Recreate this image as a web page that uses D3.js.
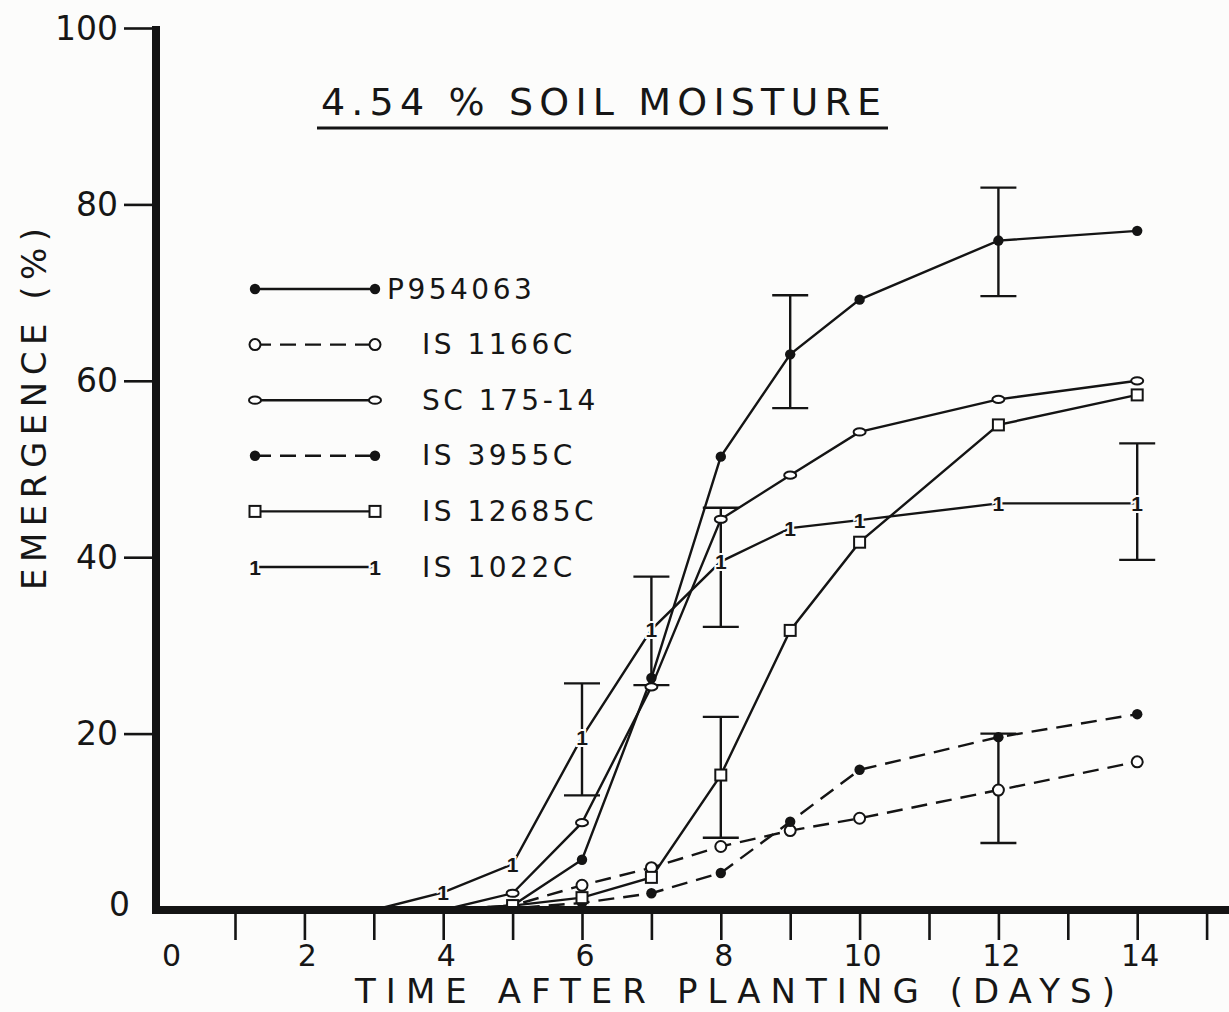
<!DOCTYPE html>
<html lang="en">
<head>
  <meta charset="UTF-8">
  <title>emergence</title>
  <script src="https://cdn.jsdelivr.net/npm/d3@7"></script>
  <style>
    * { padding: 0; margin: 0; }
    html, body { width: 1229px; height: 1012px; overflow: hidden; background: #fcfcfb; }
    text { font-family: "DejaVu Sans", sans-serif; fill: #161616; }
  </style>
</head>
<body>
  <script>
    // days sampled
    const days = [3, 4, 5, 6, 7, 8, 9, 10, 12, 14]
    // emergence (%) per entry
    const seriesNames = ['P954063', 'IS 1166C', 'SC 175-14', 'IS 3955C', 'IS 12685C', 'IS 1022C']
    const p954063 = [0, 0, 0.5, 5.7, 26.3, 51.4, 63, 69.2, 75.9, 77]
    const is1166c = [0, 0, 0.5, 2.8, 4.8, 7.2, 9.0, 10.4, 13.6, 16.8]
    const sc17514 = [0, 0, 1.9, 9.9, 25.3, 44.3, 49.3, 54.2, 57.9, 60]
    const is3955c = [0, 0, 0.2, 0.8, 1.9, 4.2, 10, 15.9, 19.6, 22.2]
    const is12685c = [0, 0, 0.5, 1.4, 3.7, 15.3, 31.7, 41.7, 55, 58.4]
    const is1022c = [0, 2, 5.2, 19.6, 31.8, 39.5, 43.3, 44.2, 46.1, 46.1]
    // error bars
    const errDays = [6, 7, 8, 8, 9, 12, 12, 14]
    const errLow = [13, 25.5, 32.1, 8.2, 56.9, 69.6, 7.6, 39.7]
    const errHigh = [25.7, 37.8, 45.6, 21.9, 69.7, 81.9, 20, 52.9]
    // axes
    const xTickLabels = [0, 2, 4, 6, 8, 10, 12, 14]
    const yTickLabels = [0, 20, 40, 60, 80, 100]

    const W = 1229, H = 1012
    const ink = '#141414'
    const svg = d3.select('body').append('svg').attr('width', W).attr('height', H)

    const x = d3.scaleLinear().domain([0, 15]).range([165.6, 1206.6])
    const y = d3.scaleLinear().domain([0, 100]).range([910, 28])

    const values = [p954063, is1166c, sc17514, is3955c, is12685c, is1022c]
    const markers = ['dot', 'circle', 'ellipse', 'dot', 'square', 'one']
    const dashed = [false, true, false, true, false, false]

    const line = d3.line().x(d => x(d[0])).y(d => y(d[1]))

    const plot = svg.append('g')
    values.forEach((vals, i) => {
      const pts = days.map((d, j) => [d, vals[j]])
      plot.append('path').datum(pts)
        .attr('d', line)
        .attr('fill', 'none')
        .attr('stroke', ink)
        .attr('stroke-width', 2.4)
        .attr('stroke-dasharray', dashed[i] ? '16,9' : null)
    })

    // error bars
    const capW = 36
    const eb = svg.append('g').attr('stroke', ink).attr('stroke-width', 2.4)
    errDays.forEach((d, i) => {
      eb.append('line').attr('x1', x(d)).attr('x2', x(d)).attr('y1', y(errLow[i])).attr('y2', y(errHigh[i]))
      eb.append('line').attr('x1', x(d) - capW / 2).attr('x2', x(d) + capW / 2).attr('y1', y(errLow[i])).attr('y2', y(errLow[i]))
      eb.append('line').attr('x1', x(d) - capW / 2).attr('x2', x(d) + capW / 2).attr('y1', y(errHigh[i])).attr('y2', y(errHigh[i]))
    })

    function drawMarker (g, type, cx, cy) {
      if (type === 'dot') {
        g.append('circle').attr('cx', cx).attr('cy', cy).attr('r', 5.2).attr('fill', ink)
      } else if (type === 'circle') {
        g.append('circle').attr('cx', cx).attr('cy', cy).attr('r', 5.5).attr('fill', '#fff').attr('stroke', ink).attr('stroke-width', 2)
      } else if (type === 'ellipse') {
        g.append('ellipse').attr('cx', cx).attr('cy', cy).attr('rx', 6).attr('ry', 3.6).attr('fill', '#fff').attr('stroke', ink).attr('stroke-width', 2)
      } else if (type === 'square') {
        g.append('rect').attr('x', cx - 5.5).attr('y', cy - 5.5).attr('width', 11).attr('height', 11).attr('fill', '#fff').attr('stroke', ink).attr('stroke-width', 2)
      } else {
        g.append('text').attr('x', cx).attr('y', cy).text('1')
          .attr('text-anchor', 'middle').attr('dominant-baseline', 'central')
          .style('font-family', '"Liberation Sans", sans-serif').style('font-size', '21px').style('font-weight', 'bold')
          .attr('stroke', '#fcfcfb').attr('stroke-width', 4).style('paint-order', 'stroke')
      }
    }

    const mk = svg.append('g')
    values.forEach((vals, i) => {
      days.forEach((d, j) => {
        if (vals[j] > 0) drawMarker(mk, markers[i], x(d), y(vals[j]))
      })
    })

    // axes
    const xAxis = svg.append('g').attr('transform', 'translate(0,914)')
      .call(d3.axisBottom(x).tickValues(d3.range(1, 16)).tickSize(26).tickFormat(''))
    xAxis.select('.domain').remove()
    xAxis.selectAll('.tick line').attr('stroke', ink).attr('stroke-width', 2.6)

    xAxis.selectAll('.lab').data(xTickLabels).enter().append('text')
      .attr('class', 'lab')
      .attr('x', d => x(d) + (d === 0 ? 6 : 3)).attr('y', 52)
      .attr('text-anchor', 'middle')
      .style('font-size', '30px')
      .text(d => d)

    const yAxis = svg.append('g').attr('transform', 'translate(152,0)')
      .call(d3.axisLeft(y).tickValues(yTickLabels.filter(v => v > 0)).tickSize(28).tickFormat(''))
    yAxis.select('.domain').remove()
    yAxis.selectAll('.tick line').attr('stroke', ink).attr('stroke-width', 2.6)

    yAxis.selectAll('.lab').data(yTickLabels).enter().append('text')
      .attr('class', 'lab')
      .attr('x', d => d === 0 ? -22 : -34).attr('y', d => y(d) - (d === 0 ? 6 : 0))
      .attr('text-anchor', 'end').attr('dominant-baseline', 'central')
      .style('font-size', '33px')
      .text(d => d)

    // axis lines
    svg.append('rect').attr('x', 152).attr('y', 26).attr('width', 8).attr('height', 888).attr('fill', ink)
    svg.append('rect').attr('x', 152).attr('y', 906).attr('width', W - 152).attr('height', 8).attr('fill', ink)

    // titles
    svg.append('text').attr('x', 355).attr('y', 1003)
      .attr('textLength', 760).attr('lengthAdjust', 'spacing')
      .style('font-size', '34px')
      .text('TIME AFTER PLANTING (DAYS)')

    svg.append('text').attr('transform', 'translate(46,590) rotate(-90)')
      .attr('textLength', 362).attr('lengthAdjust', 'spacing')
      .style('font-size', '34px')
      .text('EMERGENCE (%)')

    svg.append('text').attr('x', 321).attr('y', 115)
      .attr('textLength', 560).attr('lengthAdjust', 'spacing')
      .style('font-size', '38px')
      .text('4.54 %   SOIL  MOISTURE')
    svg.append('line').attr('x1', 317).attr('x2', 888).attr('y1', 128).attr('y2', 128)
      .attr('stroke', ink).attr('stroke-width', 3)

    // legend
    const legend = svg.append('g')
    seriesNames.forEach((name, i) => {
      const ly = 289 + i * 55.6
      legend.append('line').attr('x1', 255).attr('x2', 375).attr('y1', ly).attr('y2', ly)
        .attr('stroke', ink).attr('stroke-width', 2.4)
        .attr('stroke-dasharray', dashed[i] ? '16,9' : null)
      drawMarker(legend, markers[i], 255, ly)
      drawMarker(legend, markers[i], 375, ly)
      legend.append('text').attr('x', i === 0 ? 387 : 422).attr('y', ly)
        .attr('dominant-baseline', 'central')
        .style('font-size', '28px').style('letter-spacing', '3.5px')
        .text(name)
    })
  </script>
</body>
</html>
